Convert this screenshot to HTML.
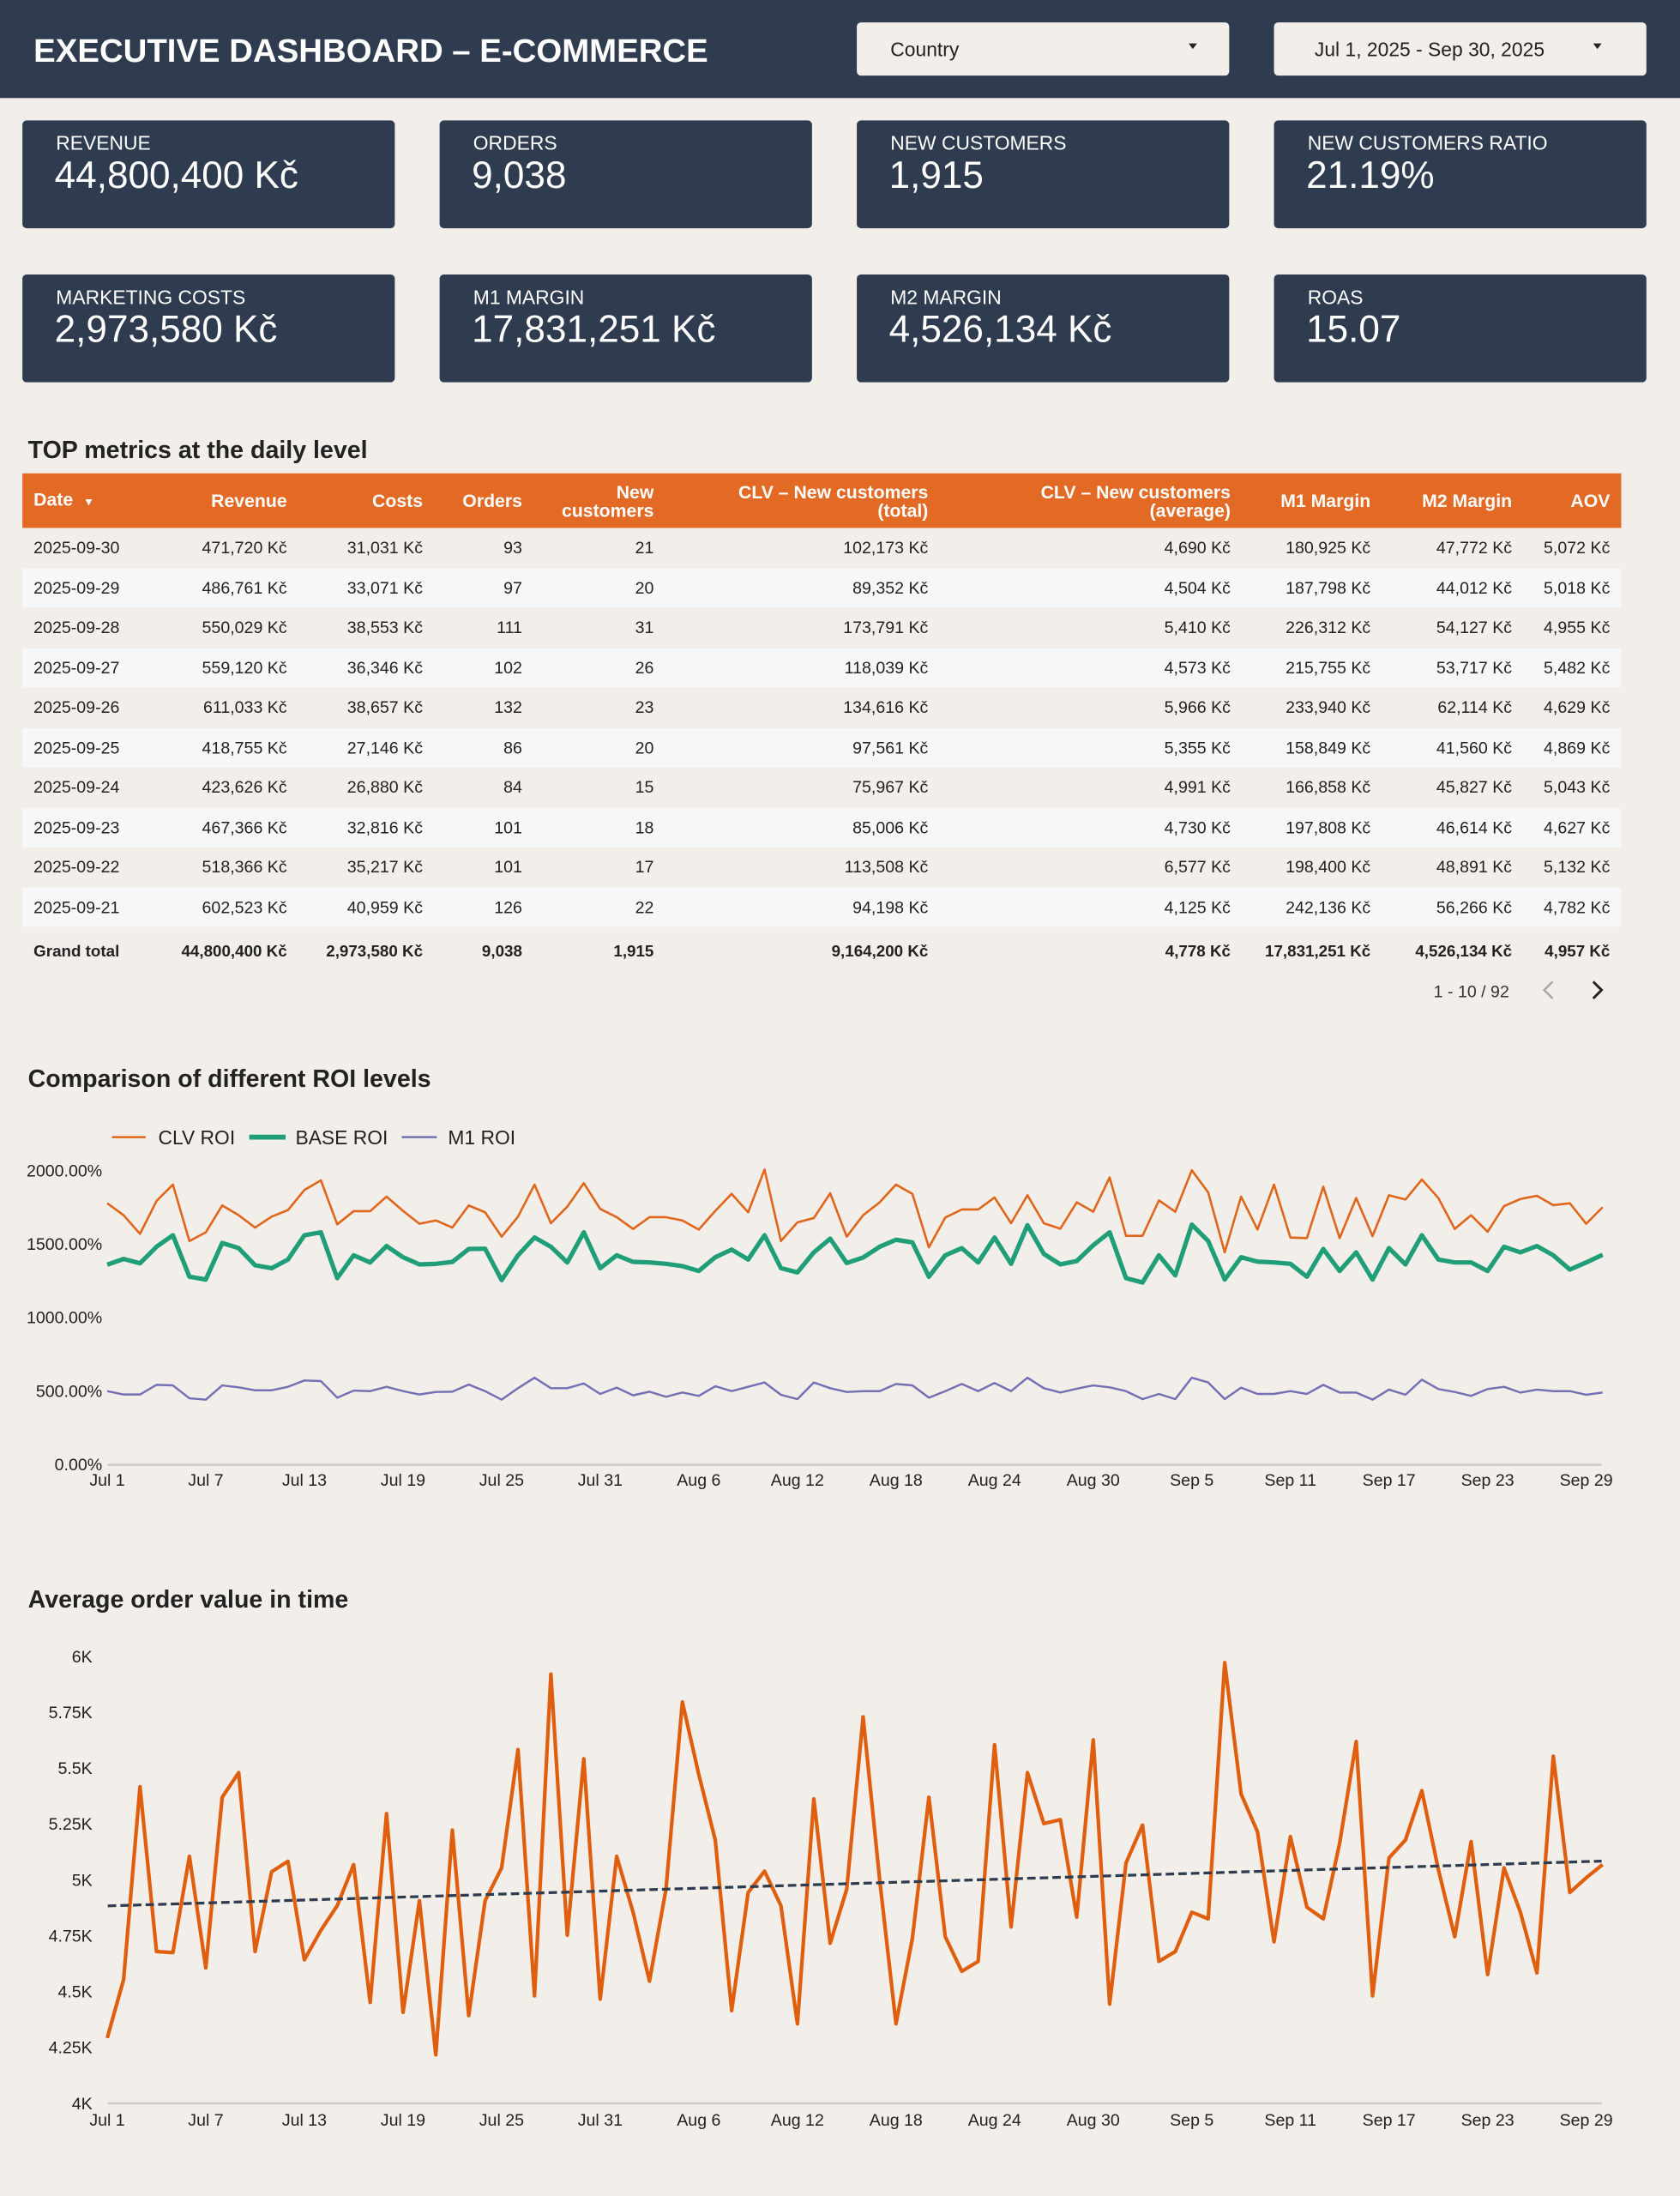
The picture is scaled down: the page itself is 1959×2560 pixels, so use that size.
<!DOCTYPE html>
<html><head><meta charset="utf-8">
<style>
html,body{margin:0;padding:0;}
body{width:1959px;height:2560px;overflow:hidden;background:#f2eee9;font-family:"Liberation Sans",Arial,sans-serif;}
#w{position:absolute;left:0;top:0;width:1200px;height:1568px;transform:scale(1.6325);transform-origin:0 0;background:#f2eee9;}
.hdr{position:absolute;left:0;top:0;width:1200px;height:70px;background:#2f3b4f;}
.title{position:absolute;left:24px;top:23px;color:#fff;font-weight:bold;font-size:23.5px;}
.dd{position:absolute;top:16px;height:38px;width:266px;background:#f2eee9;border-radius:3px;font-size:14px;color:#222;}
.dd span{position:absolute;top:11px;}
.dd i{position:absolute;top:15px;width:0;height:0;border-left:3px solid transparent;border-right:3px solid transparent;border-top:4px solid #222;}
.card{position:absolute;width:266px;height:77px;background:#2f3b4f;border-radius:3px;color:#fff;}
.card .l{position:absolute;left:24px;top:8px;font-size:14px;}
.card .v{position:absolute;left:23px;top:24px;font-size:27px;}
.st{position:absolute;left:20px;font-weight:bold;font-size:17.5px;color:#222;}
.thbg{position:absolute;left:16px;top:338px;width:1142px;height:39px;background:#e26a25;}
table{position:absolute;left:16px;top:338px;border-collapse:collapse;table-layout:fixed;width:1142px;font-size:12px;color:#222;}
th{background:transparent;color:#fff;font-weight:bold;font-size:13px;height:39px;padding:0 5px 0 0;text-align:right;line-height:13px;vertical-align:middle;}
td{height:28.5px;padding:0 5px 0 0;text-align:right;vertical-align:middle;}
tr.a td{background:#f6f7f9;}
tr.g td{font-weight:bold;height:36px;font-size:11.5px;}
th:first-child,td:first-child{text-align:left;padding-left:8px;}
th:last-child,td:last-child{padding-right:8px;}
</style></head><body>
<div id="w">
<div class="hdr"></div>
<div class="title">EXECUTIVE DASHBOARD – E-COMMERCE</div>
<div class="dd" style="left:612px"><span style="left:24px">Country</span><i style="left:237px"></i></div>
<div class="dd" style="left:910px"><span style="left:29px">Jul 1, 2025 - Sep 30, 2025</span><i style="left:228px"></i></div>

<div class="card" style="left:16px;top:86px"><div class="l">REVENUE</div><div class="v">44,800,400 Kč</div></div>
<div class="card" style="left:314px;top:86px"><div class="l">ORDERS</div><div class="v">9,038</div></div>
<div class="card" style="left:612px;top:86px"><div class="l">NEW CUSTOMERS</div><div class="v">1,915</div></div>
<div class="card" style="left:910px;top:86px"><div class="l">NEW CUSTOMERS RATIO</div><div class="v">21.19%</div></div>
<div class="card" style="left:16px;top:196px"><div class="l">MARKETING COSTS</div><div class="v">2,973,580 Kč</div></div>
<div class="card" style="left:314px;top:196px"><div class="l">M1 MARGIN</div><div class="v">17,831,251 Kč</div></div>
<div class="card" style="left:612px;top:196px"><div class="l">M2 MARGIN</div><div class="v">4,526,134 Kč</div></div>
<div class="card" style="left:910px;top:196px"><div class="l">ROAS</div><div class="v">15.07</div></div>

<div class="st" style="top:311px">TOP metrics at the daily level</div>
<div class="thbg"></div>
<table>
<colgroup><col style="width:104px"><col style="width:90px"><col style="width:97px"><col style="width:71px"><col style="width:94px"><col style="width:196px"><col style="width:216px"><col style="width:100px"><col style="width:101px"><col style="width:73px"></colgroup>
<tr><th>Date &nbsp;<span style="font-size:8px">▼</span></th><th>Revenue</th><th>Costs</th><th>Orders</th><th>New<br>customers</th><th>CLV – New customers<br>(total)</th><th>CLV – New customers<br>(average)</th><th>M1 Margin</th><th>M2 Margin</th><th>AOV</th></tr>
<tr><td>2025-09-30</td><td>471,720 Kč</td><td>31,031 Kč</td><td>93</td><td>21</td><td>102,173 Kč</td><td>4,690 Kč</td><td>180,925 Kč</td><td>47,772 Kč</td><td>5,072 Kč</td></tr>
<tr class="a"><td>2025-09-29</td><td>486,761 Kč</td><td>33,071 Kč</td><td>97</td><td>20</td><td>89,352 Kč</td><td>4,504 Kč</td><td>187,798 Kč</td><td>44,012 Kč</td><td>5,018 Kč</td></tr>
<tr><td>2025-09-28</td><td>550,029 Kč</td><td>38,553 Kč</td><td>111</td><td>31</td><td>173,791 Kč</td><td>5,410 Kč</td><td>226,312 Kč</td><td>54,127 Kč</td><td>4,955 Kč</td></tr>
<tr class="a"><td>2025-09-27</td><td>559,120 Kč</td><td>36,346 Kč</td><td>102</td><td>26</td><td>118,039 Kč</td><td>4,573 Kč</td><td>215,755 Kč</td><td>53,717 Kč</td><td>5,482 Kč</td></tr>
<tr><td>2025-09-26</td><td>611,033 Kč</td><td>38,657 Kč</td><td>132</td><td>23</td><td>134,616 Kč</td><td>5,966 Kč</td><td>233,940 Kč</td><td>62,114 Kč</td><td>4,629 Kč</td></tr>
<tr class="a"><td>2025-09-25</td><td>418,755 Kč</td><td>27,146 Kč</td><td>86</td><td>20</td><td>97,561 Kč</td><td>5,355 Kč</td><td>158,849 Kč</td><td>41,560 Kč</td><td>4,869 Kč</td></tr>
<tr><td>2025-09-24</td><td>423,626 Kč</td><td>26,880 Kč</td><td>84</td><td>15</td><td>75,967 Kč</td><td>4,991 Kč</td><td>166,858 Kč</td><td>45,827 Kč</td><td>5,043 Kč</td></tr>
<tr class="a"><td>2025-09-23</td><td>467,366 Kč</td><td>32,816 Kč</td><td>101</td><td>18</td><td>85,006 Kč</td><td>4,730 Kč</td><td>197,808 Kč</td><td>46,614 Kč</td><td>4,627 Kč</td></tr>
<tr><td>2025-09-22</td><td>518,366 Kč</td><td>35,217 Kč</td><td>101</td><td>17</td><td>113,508 Kč</td><td>6,577 Kč</td><td>198,400 Kč</td><td>48,891 Kč</td><td>5,132 Kč</td></tr>
<tr class="a"><td>2025-09-21</td><td>602,523 Kč</td><td>40,959 Kč</td><td>126</td><td>22</td><td>94,198 Kč</td><td>4,125 Kč</td><td>242,136 Kč</td><td>56,266 Kč</td><td>4,782 Kč</td></tr>
<tr class="g"><td>Grand total</td><td>44,800,400 Kč</td><td>2,973,580 Kč</td><td>9,038</td><td>1,915</td><td>9,164,200 Kč</td><td>4,778 Kč</td><td>17,831,251 Kč</td><td>4,526,134 Kč</td><td>4,957 Kč</td></tr>
</table>

<div class="st" style="top:760px">Comparison of different ROI levels</div>
<div class="st" style="top:1132px">Average order value in time</div>

<svg id="s" width="1200" height="1568" style="position:absolute;left:0;top:0" font-family="Liberation Sans, Arial, sans-serif">
<text x="1024" y="712" font-size="12" fill="#333">1 - 10 / 92</text>
<polyline points="1109,701 1103,707 1109,713" fill="none" stroke="#aaa" stroke-width="1.6"/>
<polyline points="1138,701 1144,707 1138,713" fill="none" stroke="#222" stroke-width="1.8"/>
<line x1="80" y1="812" x2="104" y2="812" stroke="#e0661b" stroke-width="1.5"/><text x="113" y="817" font-size="14" fill="#222">CLV ROI</text>
<line x1="178" y1="812" x2="204" y2="812" stroke="#1f9e77" stroke-width="3.5"/><text x="211" y="817" font-size="14" fill="#222">BASE ROI</text>
<line x1="287" y1="812" x2="312" y2="812" stroke="#7570b3" stroke-width="1.5"/><text x="320" y="817" font-size="14" fill="#222">M1 ROI</text>
<g id="g"></g>
</svg>
</div>
<script>
var g=document.getElementById('g'),h='';
function X(i){return (100+i*15.33)/0.8/1.6325;}
var clv=[308,350,415,300,243,440,410,316,350,393,355,332,262,228,382,336,336,285,335,380,368,393,316,340,425,355,243,378,320,238,328,357,398,357,357,368,400,335,275,340,190,440,375,360,273,425,350,305,243,275,462,358,330,330,288,378,280,378,397,305,338,218,422,422,298,338,193,270,480,285,400,243,428,430,250,430,290,423,280,295,225,290,398,350,408,318,293,282,315,308,380,322];
var base=[523,503,518,460,420,565,575,447,465,525,535,505,420,410,570,490,515,458,497,522,520,513,468,467,577,490,428,460,515,410,535,490,513,515,520,528,545,497,470,505,420,535,550,480,432,517,498,460,436,445,565,490,465,515,428,520,385,485,522,510,455,410,570,585,490,560,383,440,575,497,512,515,520,565,468,545,480,575,465,522,420,505,515,515,545,460,480,458,490,540,515,488];
var m1=[965,977,977,943,945,990,995,945,952,962,962,950,928,930,988,963,965,950,965,977,968,967,942,965,995,955,918,955,955,938,975,953,980,967,985,970,982,948,965,950,935,978,993,935,955,968,965,965,940,945,988,965,940,965,937,965,918,955,970,957,945,952,965,993,975,993,918,935,993,953,975,975,965,975,943,970,970,995,960,978,925,958,968,982,958,950,970,960,965,965,978,970];
var aov=[1243,1065,478,980,983,690,1030,510,435,980,737,705,1005,915,840,715,1135,560,1165,825,1295,610,1175,825,725,365,1115,135,930,393,1125,690,860,1070,790,220,440,640,1160,800,735,840,1200,515,955,790,265,760,1200,940,510,935,1040,1010,350,905,435,590,578,875,335,1140,710,595,1010,980,860,880,100,500,615,950,630,845,880,650,340,1115,695,640,490,730,935,645,1050,725,860,1045,385,800,755,715];
function pl(a,f,c,w){return '<polyline fill="none" stroke="'+c+'" stroke-width="'+w+'" stroke-linejoin="round" points="'+a.map(function(v,i){return X(i).toFixed(1)+','+f(v).toFixed(1)}).join(' ')+'"/>';}
var fr=function(z){return (1300+z/3)/1.6325;};
var fa=function(z){return (1900+z/2.613)/1.6325;};
var yl=[['2000.00%',836],['1500.00%',888.5],['1000.00%',941],['500.00%',993.5],['0.00%',1046]];
yl.forEach(function(t){h+='<text x="73" y="'+(t[1]+4)+'" font-size="12" fill="#222" text-anchor="end">'+t[0]+'</text>';});
h+='<line x1="77" y1="1046" x2="1144" y2="1046" stroke="#ccc" stroke-width="1.5"/>';
var xl=['Jul 1','Jul 7','Jul 13','Jul 19','Jul 25','Jul 31','Aug 6','Aug 12','Aug 18','Aug 24','Aug 30','Sep 5','Sep 11','Sep 17','Sep 23','Sep 29'];
xl.forEach(function(t,k){var x=X(k*6);h+='<text x="'+x+'" y="1061" font-size="12" fill="#222" text-anchor="middle">'+t+'</text>';h+='<text x="'+x+'" y="1518" font-size="12" fill="#222" text-anchor="middle">'+t+'</text>';});
h+=pl(m1,fr,'#7570b3',1.5)+pl(base,fr,'#1f9e77',3.2)+pl(clv,fr,'#e0661b',1.6);
var al=['6K','5.75K','5.5K','5.25K','5K','4.75K','4.5K','4.25K','4K'];
al.forEach(function(t,k){var y=1183+k*39.9;h+='<text x="66" y="'+(y+4)+'" font-size="12" fill="#222" text-anchor="end">'+t+'</text>';});
h+='<line x1="77" y1="1502" x2="1144" y2="1502" stroke="#ccc" stroke-width="1.5"/>';
h+=pl(aov,fa,'#e05f0e',2.6);
h+='<line x1="77" y1="1361" x2="1144" y2="1329" stroke="#2f3b4f" stroke-width="2" stroke-dasharray="6,3"/>';
g.innerHTML=h;
</script>
</body></html>
